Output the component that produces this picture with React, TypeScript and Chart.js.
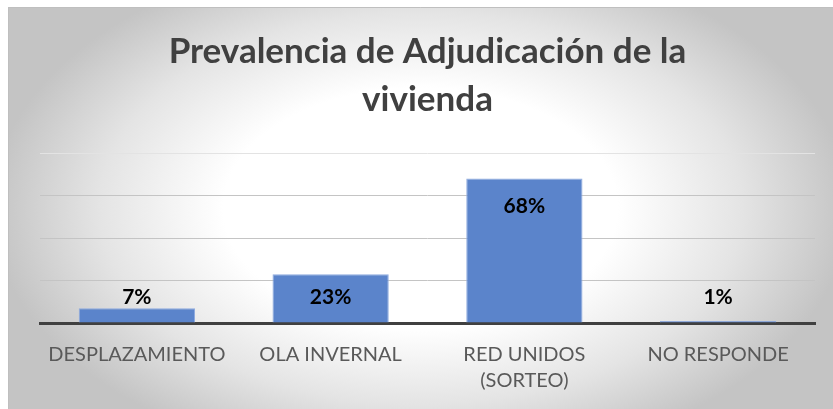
import React, { useEffect, useRef } from "react";
import { Chart, registerables } from "chart.js";

Chart.register(...registerables);

const categories: (string | string[])[] = [
  "DESPLAZAMIENTO",
  "OLA INVERNAL",
  ["RED UNIDOS", "(SORTEO)"],
  "NO RESPONDE",
];
const values: number[] = [7, 23, 68, 1];
const valueLabels: string[] = ["7%", "23%", "68%", "1%"];
const titleLines: string[] = ["Prevalencia de Adjudicación de la", "vivienda"];
const yMin = 0;
const yMax = 80;
const yStep = 20;

const FONT = "Lato, 'Open Sans', sans-serif";

const bgPlugin = {
  id: "bgGradient",
  beforeDraw(chart: any) {
    const { ctx, width, height } = chart;
    ctx.save();
    const cx = width * 0.5;
    const cy = height * 0.5;
    const rx = width * 0.52;
    const ry = height * 0.65;
    ctx.translate(cx, cy);
    ctx.scale(1, ry / rx);
    const g = ctx.createRadialGradient(0, 0, 0, 0, 0, rx);
    g.addColorStop(0, "#ffffff");
    g.addColorStop(0.46, "#ffffff");
    g.addColorStop(0.75, "#e4e4e4");
    g.addColorStop(1, "#c4c4c4");
    ctx.fillStyle = g;
    ctx.fillRect(-cx, -cy * (rx / ry), width, height * (rx / ry));
    ctx.restore();
    ctx.save();
    ctx.strokeStyle = "#bfbfbf";
    ctx.lineWidth = 1;
    ctx.beginPath();
    ctx.moveTo(0.5, height);
    ctx.lineTo(0.5, 0.5);
    ctx.lineTo(width, 0.5);
    ctx.stroke();
    ctx.restore();
  },
};

const labelPlugin = {
  id: "barLabels",
  afterDraw(chart: any) {
    const { ctx, chartArea } = chart;
    const meta = chart.getDatasetMeta(0);
    ctx.save();
    ctx.font = `bold 21px ${FONT}`;
    ctx.fillStyle = "#000000";
    ctx.textAlign = "center";
    ctx.textBaseline = "middle";
    meta.data.forEach((bar: any, i: number) => {
      const y = Math.min(bar.y + 28, chartArea.bottom - 26);
      ctx.fillText(valueLabels[i], bar.x, y);
    });
    ctx.restore();
  },
};

export default function App() {
  const ref = useRef<HTMLCanvasElement | null>(null);
  useEffect(() => {
    if (!ref.current) return;
    const chart = new Chart(ref.current, {
      type: "bar",
      data: {
        labels: categories,
        datasets: [
          {
            data: values,
            backgroundColor: "#5b84cb",
            borderColor: "#8eaadf",
            borderWidth: 1,
            barPercentage: 1,
            categoryPercentage: 0.6,
          },
        ],
      },
      options: {
        animation: false,
        responsive: false,
        maintainAspectRatio: false,
        devicePixelRatio: 1,
        layout: { padding: { left: 32, right: 18, top: 0, bottom: 0 } },
        plugins: {
          legend: { display: false },
          tooltip: { enabled: false },
          title: {
            display: true,
            text: titleLines,
            color: "#404040",
            font: { family: FONT, size: 35, weight: "bold", lineHeight: 48 / 35 },
            padding: { top: 21, bottom: 29 },
          },
        },
        scales: {
          x: {
            z: 1,
            grid: { display: false, drawTicks: false },
            border: { display: true, color: "#404040", width: 3 },
            ticks: {
              color: "#595959",
              font: { family: FONT, size: 20, lineHeight: 1.33 },
              padding: 18,
              maxRotation: 0,
              autoSkip: false,
            },
            afterFit(scale: any) {
              scale.height = 86;
            },
          },
          y: {
            min: yMin,
            max: yMax,
            ticks: { display: false, stepSize: yStep },
            border: { display: false },
            grid: {
              drawTicks: false,
              color: (c: any) => (c.tick && c.tick.value === yMax ? "#e3e3e3" : "#c4c4c4"),
              lineWidth: 1,
            },
            afterFit(scale: any) {
              scale.width = 0;
            },
          },
        },
      },
      plugins: [bgPlugin, labelPlugin],
    });
    return () => chart.destroy();
  }, []);
  return (
    <div style={{ position: "fixed", left: 8, top: 7, width: 825, height: 402 }}>
      <canvas ref={ref} width={825} height={402} style={{ display: "block", width: 825, height: 402 }} />
    </div>
  );
}
